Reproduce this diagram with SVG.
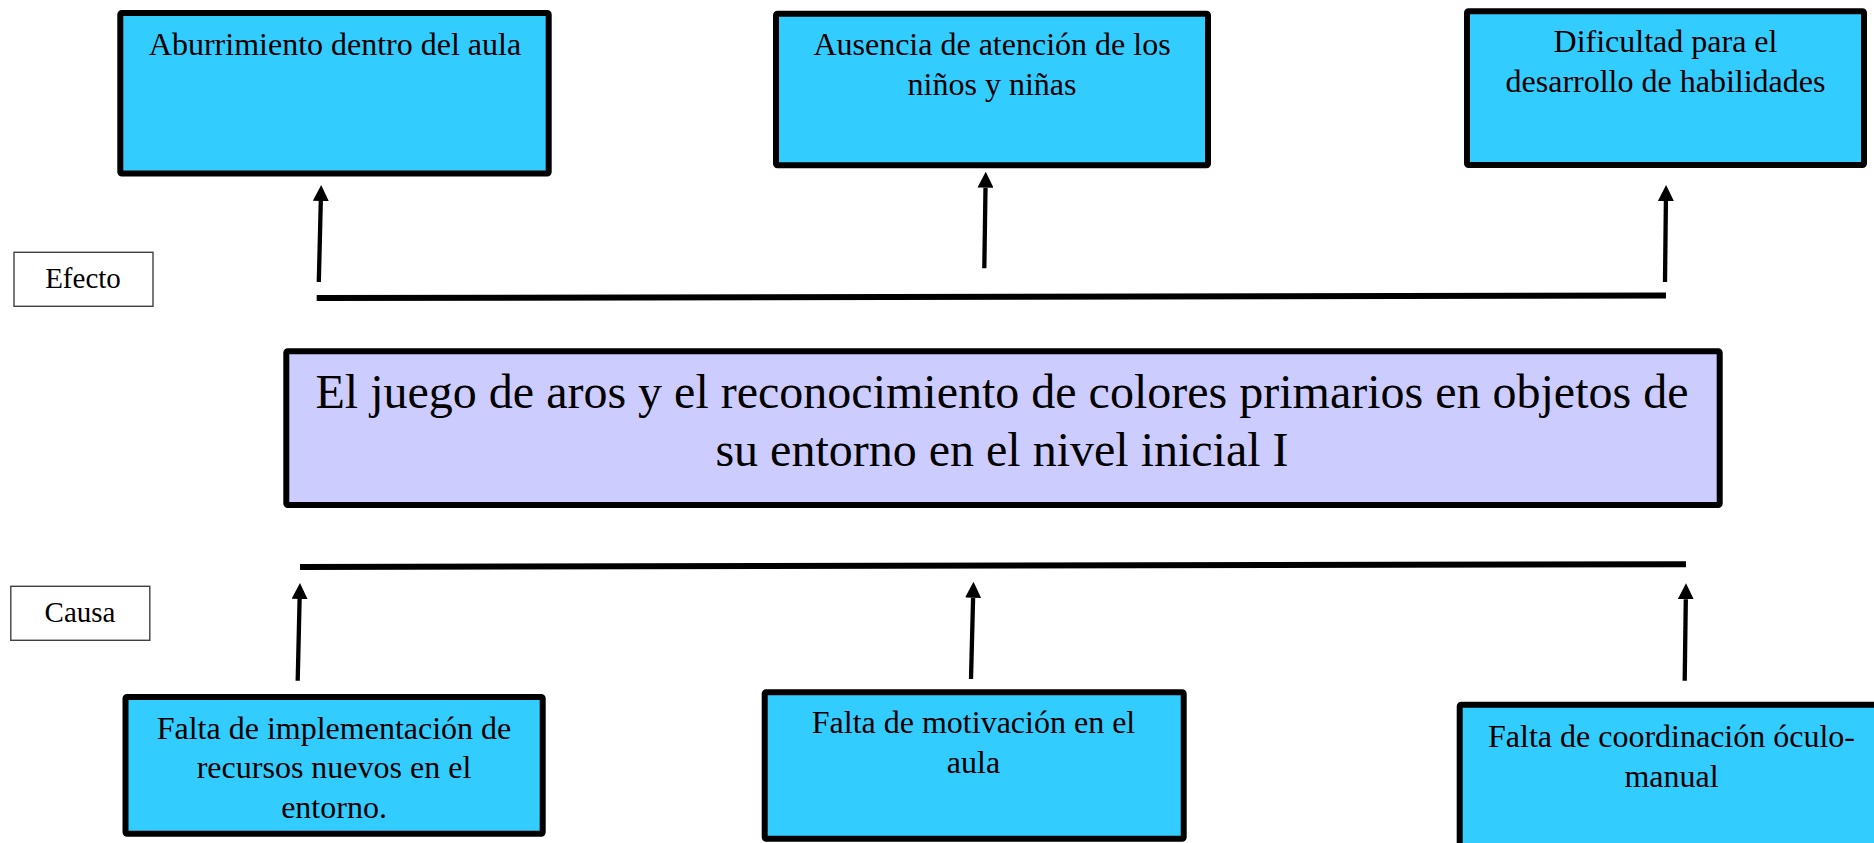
<svg xmlns="http://www.w3.org/2000/svg" width="1874" height="843" viewBox="0 0 1874 843">
<style>
.box{fill:#33CCFF;stroke:#000;stroke-width:6;stroke-linejoin:round}
.main{fill:#CCCCFF;stroke:#000;stroke-width:6;stroke-linejoin:round}
.lbl{fill:#fff;stroke:#404040;stroke-width:1.4}
.t{font-family:"Liberation Serif","Times New Roman",serif;font-size:32px;fill:#000;text-anchor:middle}
.tl{font-family:"Liberation Serif","Times New Roman",serif;font-size:29px;fill:#000;text-anchor:middle}
.tm{font-family:"Liberation Serif","Times New Roman",serif;font-size:48px;fill:#000;text-anchor:middle}
.bar{stroke:#000;stroke-width:6;fill:none}
.arr{stroke:#000;stroke-width:4.3;fill:none;marker-end:url(#ah)}
</style>
<defs>
<marker id="ah" markerUnits="userSpaceOnUse" markerWidth="16" markerHeight="16" refX="0" refY="8" orient="auto" viewBox="0 0 16 16">
<path d="M0,0 L16,8 L0,16 Z" fill="#000"/>
</marker>
</defs>
<rect width="1874" height="843" fill="#fff"/>

<g id="efecto-label">
<rect class="lbl" x="14" y="252.3" width="139" height="54"/>
<text class="tl" x="83" y="288.3">Efecto</text>
</g>
<g id="causa-label">
<rect class="lbl" x="10.8" y="586.3" width="139" height="54"/>
<text class="tl" x="80" y="622">Causa</text>
</g>

<g id="effect1">
<rect class="box" x="120.3" y="13" width="428.4" height="160.5" rx="1.5"/>
<text class="t" x="335" y="55">Aburrimiento dentro del aula</text>
</g>
<g id="effect2">
<rect class="box" x="776" y="13.7" width="432" height="151.6" rx="1.5"/>
<text class="t" x="992" y="55">Ausencia de atención de los</text>
<text class="t" x="992" y="95">niños y niñas</text>
</g>
<g id="effect3">
<rect class="box" x="1467" y="11.3" width="397" height="153.7" rx="1.5"/>
<text class="t" x="1665.5" y="52">Dificultad para el</text>
<text class="t" x="1665.5" y="92">desarrollo de habilidades</text>
</g>

<g id="problem">
<rect class="main" x="286.3" y="351.3" width="1433.4" height="153.7" rx="1.5"/>
<text class="tm" x="1002" y="408.3">El juego de aros y el reconocimiento de colores primarios en objetos de</text>
<text class="tm" x="1002" y="466">su entorno en el nivel inicial I</text>
</g>

<g id="cause1">
<rect class="box" x="125.5" y="697" width="417.2" height="136.7" rx="1.5"/>
<text class="t" x="334" y="738.5">Falta de implementación de</text>
<text class="t" x="334" y="778">recursos nuevos en el</text>
<text class="t" x="334" y="817.5">entorno.</text>
</g>
<g id="cause2">
<rect class="box" x="764.7" y="692.3" width="419" height="146.4" rx="1.5"/>
<text class="t" x="973.5" y="733.3">Falta de motivación en el</text>
<text class="t" x="973.5" y="773.3">aula</text>
</g>
<g id="cause3">
<rect class="box" x="1459.7" y="704.7" width="430" height="200" rx="1.5"/>
<text class="t" x="1671.5" y="746.7">Falta de coordinación óculo-</text>
<text class="t" x="1671.5" y="786.7">manual</text>
</g>

<g id="connectors">
<line class="bar" x1="316.7" y1="298" x2="1666" y2="295.5"/>
<line class="bar" x1="300" y1="567" x2="1686" y2="564.2"/>
<line class="arr" x1="318.8" y1="282" x2="320.8" y2="201"/>
<line class="arr" x1="984.3" y1="268.3" x2="985.5" y2="187.7"/>
<line class="arr" x1="1665" y1="282" x2="1665.9" y2="201"/>
<line class="arr" x1="297.7" y1="680.7" x2="299.6" y2="599"/>
<line class="arr" x1="971" y1="679" x2="973.1" y2="597.7"/>
<line class="arr" x1="1684.7" y1="680.7" x2="1685.8" y2="599.3"/>
</g>
</svg>
